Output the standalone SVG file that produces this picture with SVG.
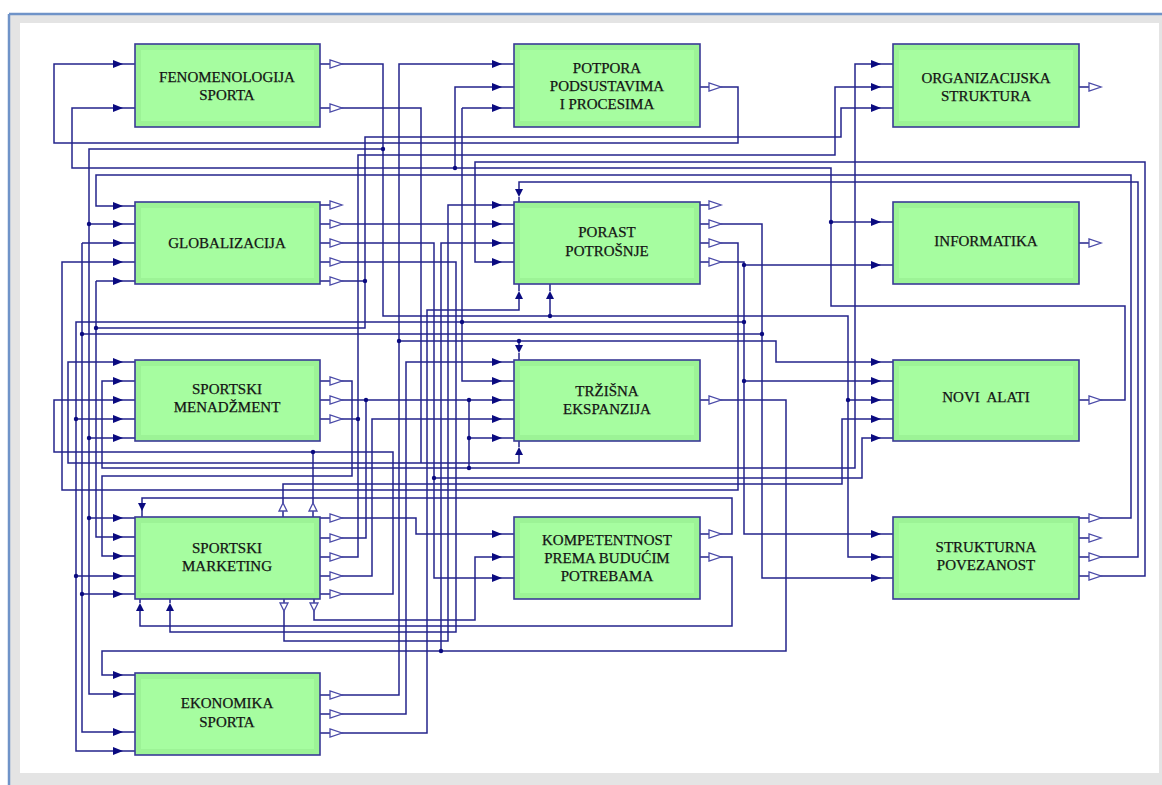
<svg xmlns="http://www.w3.org/2000/svg" xmlns:xlink="http://www.w3.org/1999/xlink" width="1162" height="785" viewBox="0 0 1162 785">
<style>
.box{fill:#9cf396;stroke:#3a3a96;stroke-width:1.6}
.inner{fill:#a6fda0}
.lbl{font-family:"Liberation Serif","Times New Roman",serif;font-size:15px;fill:#141414;stroke:#141414;stroke-width:0.25;text-anchor:middle}
.w{fill:none;stroke:#24248c;stroke-width:1.5}
.ain{fill:#0a0a80}
.aout{fill:#ffffff;stroke:#4b4ba8;stroke-width:1.3}
.dot{fill:#0a0a80}
</style>
<defs>
<polygon id="inR" class="ain" points="-10,-4 -10,4 0,0"/>
<polygon id="outR" class="aout" points="0,-4 0,4 12,0"/>
<polygon id="inD" class="ain" points="-4,-8 4,-8 0,0"/>
<polygon id="inU" class="ain" points="-4,8 4,8 0,0"/>
<polygon id="outU" class="aout" points="-4,0 4,0 0,-8"/>
<polygon id="outD" class="aout" points="-4,0 4,0 0,8"/>
</defs>
<rect x="0" y="0" width="1162" height="785" fill="#ffffff"/>
<rect x="9" y="14" width="1153" height="771" fill="#e4e4e4"/>
<line x1="9" y1="14" x2="1162" y2="14" stroke="#6f93c8" stroke-width="2.5"/>
<line x1="9" y1="14" x2="9" y2="785" stroke="#6f93c8" stroke-width="2.5"/>
<rect x="20" y="23" width="1139" height="750" fill="#ffffff"/>

<g id="connectors">
<path class="w" d="M700,87 H738 V143 H54 V64 H135"/>
<path class="w" d="M1079,400 H1125 V306 H831 V168 H72 V108 H135 M831,222 H893 M455,168 V87 H514"/>
<path class="w" d="M320,64 H383 V316 H848 V557 H893 M383,149 H89 V694 H135 M89,224 H135 M89,438 H135 M89,518 H135 M550,316 V299 M848,400 H893"/>
<path class="w" d="M320,108 H421 V463 H519 V455 M421,463 H68 V362 H135"/>
<path class="w" d="M1079,518 H1131 V175 H96 V206 H135"/>
<path class="w" d="M1079,557 H1138 V182 H519 V190"/>
<path class="w" d="M1079,576 H1145 V162 H475 V262 H514"/>
<path class="w" d="M700,262 H744 V534 H893 M744,265 H893 M744,322 H76 V751 H135 M76,419 H135 M76,576 H135 M462,108 V381 H514 M462,108 H514 M744,381 H893"/>
<path class="w" d="M700,224 H762 V578 H893 M762,334 H82 M82,243 H135 M82,243 V732 H135 M82,594 H135"/>
<path class="w" d="M700,243 H738 V490 H62 V262 H135"/>
<path class="w" d="M320,224 H514"/>
<path class="w" d="M320,243 H434 V578 H514 M434,478 H862 V438 H893"/>
<path class="w" d="M320,381 H352 V476 H102 V556 H135"/>
<path class="w" d="M320,262 H456 V632 H170 V611"/>
<path class="w" d="M320,281 H365 V328 H96 M96,281 V537 H135 M96,281 H135 M365,281 V137 H841 V108 H893"/>
<path class="w" d="M320,400 H514 M469,400 V468 H855 V64 H893 M469,468 H102 V381 H135 M469,438 H514"/>
<path class="w" d="M320,419 H358"/>
<path class="w" d="M283,517 V484 H842 V419 H893"/>
<path class="w" d="M313,517 V452"/>
<path class="w" d="M320,518 H416 V534 H514"/>
<path class="w" d="M320,538 H366 V400"/>
<path class="w" d="M320,557 H358 V155 H835 V87 H893"/>
<path class="w" d="M320,576 H372 V419 H514"/>
<path class="w" d="M320,594 H393 V452 H54 V400 H135"/>
<path class="w" d="M284,599 V641 H448 V205 H514"/>
<path class="w" d="M314,599 V620 H475 V557 H514"/>
<path class="w" d="M700,534 H732 V498 H142 V511"/>
<path class="w" d="M700,557 H732 V626 H140 V611"/>
<path class="w" d="M700,400 H786 V651 H102 V675 H135 M441,651 V243 H514"/>
<path class="w" d="M320,695 H399 V64 H514 M399,341 H776 V362 H893 M519,341 V345"/>
<path class="w" d="M320,714 H406 V362 H514"/>
<path class="w" d="M320,733 H427 V310 H519 V299"/>
<path class="w" d="M320,205 H330 M700,205 H709 M1079,538 H1089 M1079,87 H1089 M1079,243 H1089 M142,511 V517 M519,197 V202 M519,353 V360 M140,599 V603 M170,599 V603 M519,284 V291 M550,284 V291 M519,441 V447"/>

<g class="dots">
<circle class="dot" cx="831" cy="222" r="2.2"/>
<circle class="dot" cx="455" cy="168" r="2.2"/>
<circle class="dot" cx="383" cy="149" r="2.2"/>
<circle class="dot" cx="89" cy="224" r="2.2"/>
<circle class="dot" cx="89" cy="438" r="2.2"/>
<circle class="dot" cx="89" cy="518" r="2.2"/>
<circle class="dot" cx="550" cy="316" r="2.2"/>
<circle class="dot" cx="848" cy="400" r="2.2"/>
<circle class="dot" cx="744" cy="265" r="2.2"/>
<circle class="dot" cx="744" cy="322" r="2.2"/>
<circle class="dot" cx="744" cy="381" r="2.2"/>
<circle class="dot" cx="76" cy="419" r="2.2"/>
<circle class="dot" cx="76" cy="576" r="2.2"/>
<circle class="dot" cx="462" cy="322" r="2.2"/>
<circle class="dot" cx="762" cy="334" r="2.2"/>
<circle class="dot" cx="82" cy="334" r="2.2"/>
<circle class="dot" cx="82" cy="594" r="2.2"/>
<circle class="dot" cx="434" cy="478" r="2.2"/>
<circle class="dot" cx="96" cy="328" r="2.2"/>
<circle class="dot" cx="365" cy="281" r="2.2"/>
<circle class="dot" cx="469" cy="400" r="2.2"/>
<circle class="dot" cx="469" cy="438" r="2.2"/>
<circle class="dot" cx="469" cy="468" r="2.2"/>
<circle class="dot" cx="366" cy="400" r="2.2"/>
<circle class="dot" cx="358" cy="419" r="2.2"/>
<circle class="dot" cx="313" cy="452" r="2.2"/>
<circle class="dot" cx="441" cy="651" r="2.2"/>
<circle class="dot" cx="399" cy="341" r="2.2"/>
<circle class="dot" cx="519" cy="341" r="2.2"/>
</g>

<g class="arrows-in">
<use xlink:href="#inR" x="123" y="64"/><use xlink:href="#inR" x="123" y="108"/>
<use xlink:href="#inR" x="123" y="206"/><use xlink:href="#inR" x="123" y="224"/><use xlink:href="#inR" x="123" y="243"/><use xlink:href="#inR" x="123" y="262"/><use xlink:href="#inR" x="123" y="281"/>
<use xlink:href="#inR" x="123" y="362"/><use xlink:href="#inR" x="123" y="381"/><use xlink:href="#inR" x="123" y="400"/><use xlink:href="#inR" x="123" y="419"/><use xlink:href="#inR" x="123" y="438"/>
<use xlink:href="#inR" x="123" y="518"/><use xlink:href="#inR" x="123" y="537"/><use xlink:href="#inR" x="123" y="556"/><use xlink:href="#inR" x="123" y="576"/><use xlink:href="#inR" x="123" y="594"/>
<use xlink:href="#inR" x="123" y="675"/><use xlink:href="#inR" x="123" y="694"/><use xlink:href="#inR" x="123" y="732"/><use xlink:href="#inR" x="123" y="751"/>
<use xlink:href="#inR" x="502" y="64"/><use xlink:href="#inR" x="502" y="87"/><use xlink:href="#inR" x="502" y="108"/>
<use xlink:href="#inR" x="502" y="205"/><use xlink:href="#inR" x="502" y="224"/><use xlink:href="#inR" x="502" y="243"/><use xlink:href="#inR" x="502" y="262"/>
<use xlink:href="#inR" x="502" y="362"/><use xlink:href="#inR" x="502" y="381"/><use xlink:href="#inR" x="502" y="400"/><use xlink:href="#inR" x="502" y="419"/><use xlink:href="#inR" x="502" y="438"/>
<use xlink:href="#inR" x="502" y="534"/><use xlink:href="#inR" x="502" y="557"/><use xlink:href="#inR" x="502" y="578"/>
<use xlink:href="#inR" x="881" y="64"/><use xlink:href="#inR" x="881" y="87"/><use xlink:href="#inR" x="881" y="108"/>
<use xlink:href="#inR" x="881" y="222"/><use xlink:href="#inR" x="881" y="265"/>
<use xlink:href="#inR" x="881" y="362"/><use xlink:href="#inR" x="881" y="381"/><use xlink:href="#inR" x="881" y="400"/><use xlink:href="#inR" x="881" y="419"/><use xlink:href="#inR" x="881" y="438"/>
<use xlink:href="#inR" x="881" y="534"/><use xlink:href="#inR" x="881" y="557"/><use xlink:href="#inR" x="881" y="578"/>
<use xlink:href="#inD" x="142" y="511"/><use xlink:href="#inD" x="519" y="197"/><use xlink:href="#inD" x="519" y="353"/>
<use xlink:href="#inU" x="140" y="603"/><use xlink:href="#inU" x="170" y="603"/><use xlink:href="#inU" x="519" y="291"/><use xlink:href="#inU" x="550" y="291"/><use xlink:href="#inU" x="519" y="447"/>
</g>
<g class="arrows-out">
<use xlink:href="#outR" x="330" y="64"/><use xlink:href="#outR" x="330" y="108"/>
<use xlink:href="#outR" x="330" y="205"/><use xlink:href="#outR" x="330" y="224"/><use xlink:href="#outR" x="330" y="243"/><use xlink:href="#outR" x="330" y="262"/><use xlink:href="#outR" x="330" y="281"/>
<use xlink:href="#outR" x="330" y="381"/><use xlink:href="#outR" x="330" y="400"/><use xlink:href="#outR" x="330" y="419"/>
<use xlink:href="#outR" x="330" y="518"/><use xlink:href="#outR" x="330" y="538"/><use xlink:href="#outR" x="330" y="557"/><use xlink:href="#outR" x="330" y="576"/><use xlink:href="#outR" x="330" y="594"/>
<use xlink:href="#outR" x="330" y="695"/><use xlink:href="#outR" x="330" y="714"/><use xlink:href="#outR" x="330" y="733"/>
<use xlink:href="#outR" x="709" y="87"/>
<use xlink:href="#outR" x="709" y="205"/><use xlink:href="#outR" x="709" y="224"/><use xlink:href="#outR" x="709" y="243"/><use xlink:href="#outR" x="709" y="262"/>
<use xlink:href="#outR" x="709" y="400"/>
<use xlink:href="#outR" x="709" y="534"/><use xlink:href="#outR" x="709" y="557"/>
<use xlink:href="#outR" x="1089" y="87"/><use xlink:href="#outR" x="1089" y="243"/><use xlink:href="#outR" x="1089" y="400"/>
<use xlink:href="#outR" x="1089" y="518"/><use xlink:href="#outR" x="1089" y="538"/><use xlink:href="#outR" x="1089" y="557"/><use xlink:href="#outR" x="1089" y="576"/>
<use xlink:href="#outU" x="283" y="511"/><use xlink:href="#outU" x="313" y="511"/>
<use xlink:href="#outD" x="284" y="603"/><use xlink:href="#outD" x="314" y="603"/>
</g>
</g>

<g id="n-fenomenologija"><rect class="box" x="135" y="44" width="185" height="83"/><rect class="inner" x="141" y="50" width="173" height="71"/><text class="lbl" x="227" y="82">FENOMENOLOGIJA</text><text class="lbl" x="227" y="100">SPORTA</text></g>
<g id="n-potpora"><rect class="box" x="514" y="44" width="186" height="83"/><rect class="inner" x="520" y="50" width="174" height="71"/><text class="lbl" x="607" y="73">POTPORA</text><text class="lbl" x="607" y="91">PODSUSTAVIMA</text><text class="lbl" x="607" y="109">I PROCESIMA</text></g>
<g id="n-organizacijska"><rect class="box" x="893" y="44" width="186" height="83"/><rect class="inner" x="899" y="50" width="174" height="71"/><text class="lbl" x="986" y="83">ORGANIZACIJSKA</text><text class="lbl" x="986" y="101">STRUKTURA</text></g>
<g id="n-globalizacija"><rect class="box" x="135" y="202" width="185" height="82"/><rect class="inner" x="141" y="208" width="173" height="70"/><text class="lbl" x="227" y="248">GLOBALIZACIJA</text></g>
<g id="n-porast"><rect class="box" x="514" y="202" width="186" height="82"/><rect class="inner" x="520" y="208" width="174" height="70"/><text class="lbl" x="607" y="237">PORAST</text><text class="lbl" x="607" y="256">POTROŠNJE</text></g>
<g id="n-informatika"><rect class="box" x="893" y="202" width="186" height="82"/><rect class="inner" x="899" y="208" width="174" height="70"/><text class="lbl" x="986" y="246">INFORMATIKA</text></g>
<g id="n-menadzment"><rect class="box" x="135" y="360" width="185" height="81"/><rect class="inner" x="141" y="366" width="173" height="69"/><text class="lbl" x="227" y="394">SPORTSKI</text><text class="lbl" x="227" y="412">MENADŽMENT</text></g>
<g id="n-trzisna"><rect class="box" x="514" y="360" width="186" height="81"/><rect class="inner" x="520" y="366" width="174" height="69"/><text class="lbl" x="607" y="396">TRŽIŠNA</text><text class="lbl" x="607" y="414">EKSPANZIJA</text></g>
<g id="n-novi-alati"><rect class="box" x="893" y="360" width="186" height="81"/><rect class="inner" x="899" y="366" width="174" height="69"/><text class="lbl" x="986" y="402" xml:space="preserve">NOVI  ALATI</text></g>
<g id="n-marketing"><rect class="box" x="135" y="517" width="185" height="82"/><rect class="inner" x="141" y="523" width="173" height="70"/><text class="lbl" x="227" y="553">SPORTSKI</text><text class="lbl" x="227" y="571">MARKETING</text></g>
<g id="n-kompetentnost"><rect class="box" x="514" y="517" width="186" height="82"/><rect class="inner" x="520" y="523" width="174" height="70"/><text class="lbl" x="607" y="545">KOMPETENTNOST</text><text class="lbl" x="607" y="563">PREMA BUDUĆIM</text><text class="lbl" x="607" y="581">POTREBAMA</text></g>
<g id="n-strukturna"><rect class="box" x="893" y="517" width="186" height="82"/><rect class="inner" x="899" y="523" width="174" height="70"/><text class="lbl" x="986" y="552">STRUKTURNA</text><text class="lbl" x="986" y="570">POVEZANOST</text></g>
<g id="n-ekonomika"><rect class="box" x="135" y="673" width="185" height="82"/><rect class="inner" x="141" y="679" width="173" height="70"/><text class="lbl" x="227" y="708">EKONOMIKA</text><text class="lbl" x="227" y="727">SPORTA</text></g>
</svg>
